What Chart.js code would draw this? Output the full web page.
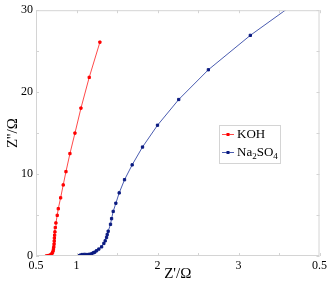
<!DOCTYPE html>
<html>
<head>
<meta charset="utf-8">
<script src="https://cdn.jsdelivr.net/npm/chart.js@4/dist/chart.umd.min.js"></script>
<style>
html,body{margin:0;padding:0;background:#fff;}
#wrap{width:330px;height:287px;position:relative;}
</style>
</head>
<body>
<div id="wrap"><canvas id="c" width="330" height="287"></canvas></div>
<script>
// ---- data ----
const seriesLabels = ["KOH", "Na\u2082SO\u2084"];
const kohX = [0.63,0.65,0.67,0.685,0.697,0.705,0.712,0.716,0.72,0.723,0.725,0.727,0.730,0.734,0.738,0.746,0.762,0.775,0.804,0.836,0.870,0.919,0.981,1.055,1.157,1.289];
const kohY = [0.02,0.05,0.10,0.18,0.30,0.45,0.65,0.90,1.12,1.45,1.81,2.18,2.54,2.94,3.47,4.03,4.96,5.77,7.10,8.67,10.3,12.5,15.0,18.05,21.8,26.1];
const naX = [1.03,1.05,1.07,1.10,1.13,1.16,1.19,1.21,1.227,1.248,1.276,1.310,1.338,1.354,1.371,1.379,1.391,1.420,1.433,1.453,1.486,1.527,1.593,1.687,1.815,2.0,2.262,2.628,3.146,3.62];
const naY = [0.03,0.12,0.18,0.20,0.18,0.22,0.30,0.40,0.48,0.64,0.85,1.12,1.53,1.85,2.26,2.62,3.02,3.87,4.56,5.44,6.44,7.70,9.31,11.12,13.30,15.96,19.1,22.73,26.93,30.3];
const xTickValues = [0.5,1,1.5,2,2.5,3,3.5,4];
const xTickLabels = ["0.5","1","","2","","3","","0.5"];
const yTickValues = [0,5,10,15,20,25,30];
const yTickLabels = ["0","","10","","20","","30"];
const xTitle = "Z'/\u03A9";
const yTitle = "Z''/\u03A9";

const toPts = (xs, ys) => xs.map((x, i) => ({x: x, y: ys[i]}));
const FONT = "'Liberation Serif', 'Times New Roman', serif";

const frame = {
  id: 'frame',
  afterDatasetsDraw(chart) {
    const {ctx, chartArea: a, scales: {x, y}} = chart;
    ctx.save();
    ctx.strokeStyle = '#d4d4d4';
    ctx.lineWidth = 1;
    ctx.strokeRect(a.left + 0.5, a.top + 0.5, a.right - a.left - 1, a.bottom - a.top - 1);
    const L = 3;
    ctx.beginPath();
    xTickValues.forEach(v => {
      const px = Math.round(x.getPixelForValue(v)) + 0.5;
      ctx.moveTo(px, a.bottom); ctx.lineTo(px, a.bottom - L);
      ctx.moveTo(px, a.top); ctx.lineTo(px, a.top + L);
    });
    yTickValues.forEach(v => {
      const py = Math.round(y.getPixelForValue(v)) + 0.5;
      ctx.moveTo(a.left, py); ctx.lineTo(a.left + L, py);
      ctx.moveTo(a.right, py); ctx.lineTo(a.right - L, py);
    });
    ctx.stroke();
    ctx.restore();
  },
  afterDraw(chart) {
    const {ctx} = chart;
    const bx = 219, by = 125, bw = 61, bh = 38;
    ctx.save();
    ctx.fillStyle = '#fff';
    ctx.fillRect(bx, by, bw, bh);
    ctx.strokeStyle = '#d4d4d4';
    ctx.lineWidth = 1;
    ctx.strokeRect(bx + 0.5, by + 0.5, bw, bh);
    chart.data.datasets.forEach((ds, i) => {
      const cy = by + 9.5 + i * 18;
      ctx.strokeStyle = ds.borderColor;
      ctx.lineWidth = 1;
      ctx.beginPath();
      ctx.moveTo(bx + 3, cy); ctx.lineTo(bx + 15, cy);
      ctx.stroke();
      ctx.fillStyle = ds.pointBackgroundColor;
      ctx.fillRect(bx + 7.5, cy - 1.5, 3, 3);
      // text with subscript digits
      let tx = bx + 18;
      ctx.fillStyle = '#000';
      ctx.textBaseline = 'middle';
      const label = ds.label;
      for (const ch of label) {
        const sub = ch.charCodeAt(0) >= 0x2080 && ch.charCodeAt(0) <= 0x2089;
        if (sub) {
          ctx.font = '9px ' + FONT;
          const d = String(ch.charCodeAt(0) - 0x2080);
          ctx.fillText(d, tx, cy + 4);
          tx += ctx.measureText(d).width;
        } else {
          ctx.font = '13px ' + FONT;
          ctx.fillText(ch, tx, cy);
          tx += ctx.measureText(ch).width;
        }
      }
    });
    ctx.restore();
  }
};

new Chart(document.getElementById('c'), {
  type: 'line',
  data: {
    datasets: [
      {
        label: seriesLabels[0],
        data: toPts(kohX, kohY),
        borderColor: '#ff4a4a',
        backgroundColor: '#ff0000',
        pointBackgroundColor: '#ff0000',
        pointBorderColor: '#ff0000',
        pointStyle: 'rect',
        pointRadius: 1.6,
        borderWidth: 1,
        tension: 0
      },
      {
        label: seriesLabels[1],
        data: toPts(naX, naY),
        borderColor: '#4a5cb0',
        backgroundColor: '#0a1a80',
        pointBackgroundColor: '#0a1a80',
        pointBorderColor: '#0a1a80',
        pointStyle: 'rect',
        pointRadius: ctx => ctx.dataIndex === naX.length - 1 ? 0 : 1.6,
        borderWidth: 1,
        tension: 0
      }
    ]
  },
  options: {
    responsive: false,
    animation: false,
    events: [],
    layout: {padding: {top: 8, right: 10, left: 0, bottom: 0}},
    plugins: {legend: {display: false}, tooltip: {enabled: false}},
    scales: {
      x: {
        type: 'linear',
        min: 0.5, max: 4,
        afterFit: s => { s.height = 31; },
        afterBuildTicks: s => { s.ticks = xTickValues.map(v => ({value: v})); },
        grid: {display: false, drawTicks: false},
        border: {display: false},
        ticks: {
          autoSkip: false, maxRotation: 0, padding: 3,
          color: '#000',
          font: {family: FONT, size: 12},
          callback: (v) => { const i = xTickValues.indexOf(v); return i >= 0 ? xTickLabels[i] : ''; }
        },
        title: {display: true, text: xTitle, color: '#000', font: {family: FONT, size: 15}, padding: {top: 4, bottom: 4}}
      },
      y: {
        type: 'linear',
        min: 0, max: 30,
        afterFit: s => { s.width = 36; },
        afterBuildTicks: s => { s.ticks = yTickValues.map(v => ({value: v})); },
        grid: {display: false, drawTicks: false},
        border: {display: false},
        ticks: {
          autoSkip: false, padding: 3,
          color: '#000',
          font: {family: FONT, size: 12},
          callback: (v) => { const i = yTickValues.indexOf(v); return i >= 0 ? yTickLabels[i] : ''; }
        },
        title: {display: true, text: yTitle, color: '#000', font: {family: FONT, size: 15}, padding: {top: 4, bottom: 4}}
      }
    }
  },
  plugins: [frame]
});
</script>
</body>
</html>
